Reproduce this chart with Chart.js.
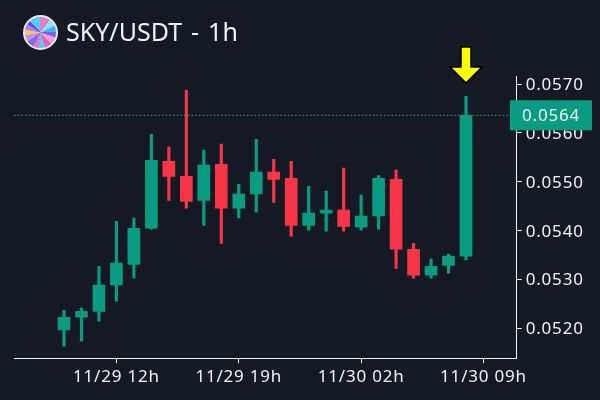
<!DOCTYPE html>
<html>
<head>
<meta charset="utf-8">
<script src="https://cdn.jsdelivr.net/npm/chart.js@4"></script>
<style>
  html, body { margin: 0; background: #151924; }
  #wrap { position: relative; width: 600px; height: 400px; overflow: hidden; }
  #logo {
    position: absolute; left: 23px; top: 15px; width: 31px; height: 31px; border-radius: 50%;
    border: 2px solid #e8e8ee;
    background: conic-gradient(#e879d0 0 10%, #8fe3f5 10% 18%, #3fb4f5 18% 25%, #7a5cf0 25% 30%, #f0a0d8 30% 38%, #e860b8 38% 45%, #5cc8f8 45% 52%, #f070c8 52% 58%, #7070f0 58% 65%, #c890f0 65% 72%, #f8c860 72% 78%, #b080f0 78% 84%, #6848e0 84% 88%, #50d0f8 88% 100%);
  }
  #title {
    position: absolute; left: 66px; top: 14px; color: #f2f2f2;
    font: 25px "Noto Sans", sans-serif; white-space: pre; word-spacing: 2.5px;
  }
</style>
</head>
<body>
<div id="wrap">
  <canvas id="chart" width="600" height="400"></canvas>
  <div id="logo"></div>
  <div id="title">SKY/USDT - 1h</div>
</div>
<script>
// hours counted from 11/29 09h
const hours = [0,1,2,3,4,5,6,7,8,9,10,11,12,13,14,15,16,17,18,19,20,21,22,23];
const opens  = [.05197,.05223,.05235,.05289,.05331,.05405,.05542,.05511,.05462,.05536,.05446,.05475,.05520,.05507,.05411,.05436,.05442,.05407,.05430,.05505,.05362,.05309,.05329,.05348];
const highs  = [.05237,.05242,.05327,.05419,.05426,.05597,.05571,.05687,.05565,.05577,.05495,.05587,.05546,.05542,.05491,.05481,.05528,.05473,.05513,.05524,.05374,.05342,.05352,.05675];
const lows   = [.05164,.05174,.05215,.05256,.05303,.05403,.05462,.05446,.05411,.05374,.05426,.05438,.05458,.05389,.05401,.05399,.05399,.05401,.05403,.05323,.05303,.05303,.05313,.05340];
const closes = [.05223,.05235,.05289,.05334,.05405,.05544,.05511,.05460,.05534,.05446,.05475,.05520,.05505,.05411,.05436,.05442,.05409,.05430,.05507,.05362,.05309,.05327,.05348,.05636];

const tickHours = [3, 10, 17, 24];
const tickLabels = ['11/29 12h', '11/29 19h', '11/30 02h', '11/30 09h'];
const priceTicks = [0.052, 0.053, 0.054, 0.055, 0.056, 0.057];

const green = '#099c82';
const red = '#f63648';
const xMin = -2.86, xMax = 25.9;
const lastClose = closes[closes.length - 1];
const colors = hours.map((h, i) => closes[i] >= opens[i] ? green : red);

// yellow arrow over the last candle and the price box on the axis
const overlay = {
  id: 'overlay',
  beforeDraw(chart) {
    chart.ctx.letterSpacing = '0.8px';
  },
  afterDraw(chart) {
    const c = chart.ctx;
    const xs = chart.scales.x, ys = chart.scales.y;
    const ax = xs.getPixelForValue(hours[hours.length - 1]);
    c.save();
    c.beginPath();
    c.moveTo(ax - 5, 47); c.lineTo(ax + 5, 47); c.lineTo(ax + 5, 67);
    c.lineTo(ax + 16, 67); c.lineTo(ax, 83); c.lineTo(ax - 16, 67); c.lineTo(ax - 5, 67);
    c.closePath();
    c.fillStyle = '#ffff00';
    c.strokeStyle = '#000';
    c.lineWidth = 1.5;
    c.fill(); c.stroke();

    const py = ys.getPixelForValue(lastClose);
    c.fillStyle = green;
    c.fillRect(510, py - 15, 82, 30);
    c.fillStyle = '#f2f2f2';
    c.font = '17px "Noto Sans", sans-serif';
    c.textAlign = 'center';
    c.textBaseline = 'middle';
    c.fillText(lastClose.toFixed(4), 551, py + 1);
    c.restore();
  }
};

new Chart(document.getElementById('chart'), {
  type: 'bar',
  data: {
    datasets: [
      {
        type: 'line',
        data: [{ x: xMin, y: lastClose }, { x: xMax, y: lastClose }],
        borderColor: green,
        borderWidth: 1.2,
        borderDash: [1.5, 2.2],
        pointRadius: 0,
        order: 3
      },
      {
        data: hours.map((h, i) => ({ x: h, y: [lows[i], highs[i]] })),
        backgroundColor: colors,
        barThickness: 2.5,
        order: 2
      },
      {
        data: hours.map((h, i) => ({ x: h, y: [opens[i], closes[i]] })),
        backgroundColor: colors,
        barThickness: 12,
        order: 1
      }
    ]
  },
  options: {
    responsive: false,
    animation: false,
    datasets: { bar: { grouped: false } },
    layout: { padding: { left: 14, top: 76.7, right: 0, bottom: 0 } },
    plugins: { legend: { display: false }, tooltip: { enabled: false } },
    scales: {
      x: {
        type: 'linear',
        offset: false,
        min: xMin,
        max: xMax,
        grid: { offset: false, drawOnChartArea: false, color: '#f2f2f2', tickLength: 5 },
        border: { color: '#f2f2f2' },
        afterBuildTicks(s) { s.ticks = tickHours.map(v => ({ value: v })); },
        afterFit(s) { s.height = 41.7; },
        ticks: {
          color: '#f2f2f2',
          font: { family: '"Noto Sans", sans-serif', size: 17 },
          autoSkip: false,
          maxRotation: 0,
          padding: 4,
          callback: v => tickLabels[tickHours.indexOf(v)]
        }
      },
      y: {
        position: 'right',
        min: 0.05139,
        max: 0.05715,
        grid: { drawOnChartArea: false, color: '#f2f2f2', tickLength: 5 },
        border: { color: '#f2f2f2' },
        afterBuildTicks(s) { s.ticks = priceTicks.map(v => ({ value: v })); },
        afterFit(s) { s.width = 83.3; },
        ticks: {
          color: '#f2f2f2',
          font: { family: '"Noto Sans", sans-serif', size: 17 },
          padding: 4,
          labelOffset: 1,
          callback: v => v.toFixed(4)
        }
      }
    }
  },
  plugins: [overlay]
});
</script>
</body>
</html>
